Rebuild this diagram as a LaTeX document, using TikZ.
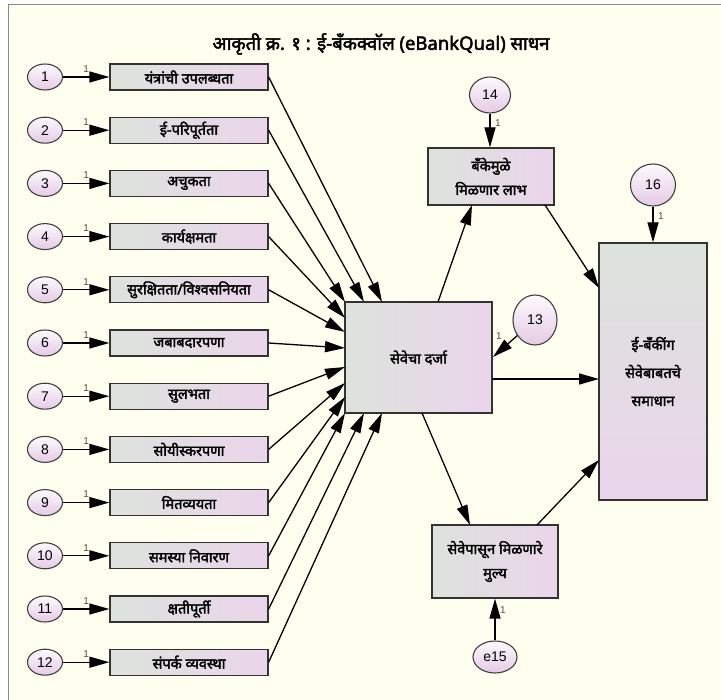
\documentclass[tikz,border=0pt]{standalone}
\usepackage{fontspec}
\newfontfamily\deva[Script=Devanagari,AutoFakeBold=2.4]{Noto Sans}
\newfontfamily\lat{Liberation Sans}
\usetikzlibrary{arrows.meta,shapes.geometric}
\definecolor{bgc}{HTML}{FFFFF0}
\definecolor{boxl}{HTML}{DCE3DC}
\definecolor{boxr}{HTML}{EBD5EB}
\definecolor{circb}{HTML}{E6CAE6}
\definecolor{framec}{HTML}{8A8A8A}
\begin{document}
\begin{tikzpicture}[x=1pt,y=-1pt,
  obs/.style={draw=black!80, line width=1.3pt, left color=boxl, right color=boxr,
    minimum width=158pt, minimum height=26pt, inner sep=0pt,
    font=\deva\bfseries\fontsize{14.5}{16}\selectfont},
  bigbox/.style={draw=black!80, line width=1.3pt, left color=boxl, right color=boxr,
    inner sep=0pt, align=center, font=\deva\bfseries\fontsize{14.5}{24}\selectfont},
  errc/.style={ellipse, draw=black!75, line width=1.1pt, top color=white!90!circb, bottom color=circb,
    inner sep=0pt, font=\lat\fontsize{14}{15}\selectfont},
  arr/.style={-{Triangle[length=20pt,width=11pt]}, line width=1.3pt},
  one/.style={font=\lat\fontsize{10}{10}\selectfont, text=black!70, inner sep=1pt}]
\useasboundingbox (0,0) rectangle (721,700);
\clip (0,0) rectangle (721,700);
\fill[white] (0,0) rectangle (721,700);
\draw[framec, line width=1.5pt, fill=bgc] (8.5,4.5) rectangle (740,720);

\node[font=\deva\bfseries\fontsize{18.5}{20}\selectfont] (title) at (381,44) {आकृती क्र. १ : ई-बँकक्वॉल (eBankQual) साधन};

% central box
\node[bigbox, minimum width=147pt, minimum height=111pt] (cb) at (418.5,357.5) {सेवेचा दर्जा};
\coordinate (t1) at (382,302);
\coordinate (t2) at (364,302);
\coordinate (t3) at (345,302);
\coordinate (t4) at (345,318);
\coordinate (t5) at (345,332);
\coordinate (t6) at (345,348);
\coordinate (t7) at (345,367);
\coordinate (t8) at (345,383);
\coordinate (t9) at (345,397);
\coordinate (t10) at (345,413);
\coordinate (t11) at (364,413);
\coordinate (t12) at (382,413);

\foreach \i/\t in {1/{यंत्रांची उपलब्धता},2/{ई-परिपूर्तता},3/{अचुकता},4/{कार्यक्षमता},
  5/{सुरक्षितता/विश्वसनियता},6/{जबाबदारपणा},7/{सुलभता},8/{सोयीस्करपणा},
  9/{मितव्ययता},10/{समस्या निवारण},11/{क्षतीपूर्ती},12/{संपर्क व्यवस्था}} {
  \pgfmathsetmacro\yy{77+53.2*(\i-1)}
  \node[errc, minimum width=35pt, minimum height=26pt] (e\i) at (45,\yy) {\i};
  \node[obs] (b\i) at (189,\yy) {\t};
  \draw[arr] (e\i) -- (b\i) node[one, pos=0.5, above=3pt] {1};
  \draw[arr] (b\i.east) -- (t\i);
}

% circle 13
\node[errc, minimum width=44pt, minimum height=50pt] (e13) at (535,320) {13};
\coordinate (c13) at (493,357);
\draw[arr] (e13) -- (c13);
\node[one] (l13) at (499,336) {1};

% box 14
\node[bigbox, minimum width=126pt, minimum height=57pt] (b14) at (491,176.5) {बँकेमुळे\\मिळणार लाभ};
\node[errc, minimum width=41pt, minimum height=36pt] (e14) at (490,95) {14};
\draw[arr] (e14) -- (b14.north -| e14);
\node[one] (l14) at (498,123) {1};

% right box
\node[draw=black!80, line width=1.3pt, top color=boxl, bottom color=boxr, inner sep=0pt,
  align=center, font=\deva\bfseries\fontsize{14.5}{28}\selectfont,
  minimum width=108pt, minimum height=257pt] (rb) at (653,371.5) {ई-बँकींग\\सेवेबाबतचे\\समाधान};
\node[errc, minimum width=45pt, minimum height=42pt] (e16) at (653,185) {16};
\draw[arr] (e16) -- (rb.north);
\node[one] (l16) at (661,216) {1};

% bottom box
\node[bigbox, minimum width=126pt, minimum height=73pt] (bb) at (495,561.5) {सेवेपासून मिळणारे\\मुल्य};
\node[errc, minimum width=44pt, minimum height=32pt] (e15) at (495,657) {e15};
\draw[arr] (e15) -- (bb.south);
\node[one] (l15) at (503,610) {1};

% structural arrows
\coordinate (s1) at (438,302);
\coordinate (s2) at (472,205);
\draw[arr] (s1) -- (s2);
\coordinate (s3) at (545,205);
\coordinate (s4) at (599,288);
\draw[arr] (s3) -- (s4);
\coordinate (s5) at (492,379);
\coordinate (s6) at (599,379);
\draw[arr] (s5) -- (s6);
\coordinate (s7) at (422,413);
\coordinate (s8) at (470,525);
\draw[arr] (s7) -- (s8);
\coordinate (s9) at (537,525);
\coordinate (s10) at (599,460);
\draw[arr] (s9) -- (s10);
\end{tikzpicture}
\end{document}
